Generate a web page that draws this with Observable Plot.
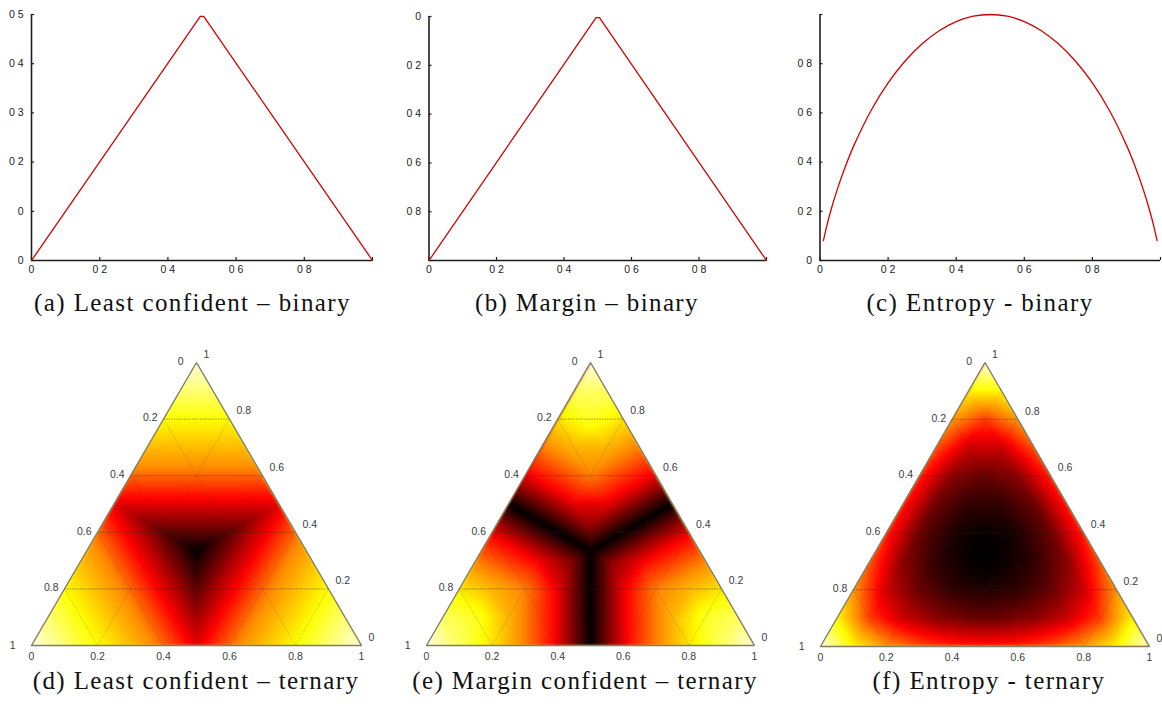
<!DOCTYPE html>
<html>
<head>
<meta charset="utf-8">
<script src="https://cdn.jsdelivr.net/npm/d3@7"></script>
<script src="https://cdn.jsdelivr.net/npm/@observablehq/plot@0.6"></script>
<style>
html, body { margin: 0; padding: 0; background: #fff; }
#root { position: relative; width: 1162px; height: 704px; overflow: hidden; background: #fff; }
#root > svg { position: absolute; }
</style>
</head>
<body>
<div id="root"></div>
<script>
// ---------------- data ----------------
// binary panels (x = probability of class 1)
const binaryTickValues = [0, 0.2, 0.4, 0.6, 0.8, 1];
const binaryTickLabels = ["0", "0 2", "0 4", "0 6", "0 8", ""];

const lcP = [0, 0.495, 0.505, 1];
const lcScore = [0, 0.496, 0.496, 0];
const lcYTicks = [0, 0.1, 0.2, 0.3, 0.4, 0.5];
const lcYLabels = ["0", "0", "0 2", "0 3", "0 4", "0 5"];

const marginP = [0, 0.495, 0.505, 1];
const marginScore = [1, 0.005, 0.005, 1];
const marginYTicks = [0, 0.2, 0.4, 0.6, 0.8, 1];
const marginYLabels = ["0", "0 2", "0 4", "0 6", "0 8", ""];

const entP = [0.01, 0.02, 0.03, 0.05, 0.075, 0.1, 0.15, 0.2, 0.25, 0.3, 0.35, 0.4, 0.45, 0.5,
              0.55, 0.6, 0.65, 0.7, 0.75, 0.8, 0.85, 0.9, 0.925, 0.95, 0.97, 0.98, 0.99];
const entScore = [0.081, 0.141, 0.194, 0.286, 0.384, 0.469, 0.610, 0.722, 0.811, 0.881, 0.934, 0.971, 0.993, 1,
                  0.993, 0.971, 0.934, 0.881, 0.811, 0.722, 0.610, 0.469, 0.384, 0.286, 0.194, 0.141, 0.081];
const entYTicks = [0, 0.2, 0.4, 0.6, 0.8, 1];
const entYLabels = ["0", "0 2", "0 4", "0 6", "0 8", ""];

// ternary panels: score for each class-probability composition (all permutations share the score)
const compositions = [
  [1, 0, 0], [0.9, 0.1, 0], [0.8, 0.2, 0], [0.8, 0.1, 0.1], [0.7, 0.3, 0], [0.7, 0.2, 0.1], [0.6, 0.4, 0],
  [0.6, 0.3, 0.1], [0.6, 0.2, 0.2], [0.5, 0.5, 0], [0.5, 0.4, 0.1], [0.5, 0.3, 0.2], [0.4, 0.4, 0.2], [0.4, 0.3, 0.3],
  [0.45, 0.45, 0.1], [0.375, 0.375, 0.25], [1 / 3, 1 / 3, 1 / 3]
];
const lcTernary      = [0, 0.1, 0.2, 0.2, 0.3, 0.3, 0.4, 0.4, 0.4, 0.5, 0.5, 0.5, 0.6, 0.6, 0.55, 0.625, 0.667];
const marginTernary  = [1, 0.8, 0.6, 0.7, 0.4, 0.5, 0.2, 0.3, 0.4, 0, 0.1, 0.2, 0, 0.1, 0, 0, 0];
const entropyTernary = [0, 0.469, 0.722, 0.922, 0.881, 1.157, 0.971, 1.296, 1.371, 1, 1.361, 1.485, 1.522, 1.571, 1.369, 1.561, 1.585];

const ternaryTicks = [0, 0.2, 0.4, 0.6, 0.8, 1];
const ternaryTickLabels = ["0", "0.2", "0.4", "0.6", "0.8", "1"];

const captions = ["(a) Least confident \u2013 binary", "(b) Margin \u2013 binary", "(c) Entropy - binary",
                  "(d) Least confident \u2013 ternary", "(e) Margin confident \u2013 ternary", "(f) Entropy - ternary"];

// ---------------- styles / layout ----------------
const root = document.getElementById("root");
const AXIS = "#1e1e1e";
const RED = "#d20000";
const sans = "'Liberation Sans', Arial, Helvetica, sans-serif";
const hotColors = ["#ffffe4", "#ffff00", "#ff8c00", "#ff0000", "#000000"];

function place(svg, left, top) {
  svg.style.left = left + "px";
  svg.style.top = top + "px";
  root.appendChild(svg);
}

function binaryPlot({xs, ys, yDomain, yReverse, yTicks, yLabels, baseY, left, width, marginLeft, marginRight, marginTop, curve}) {
  const height = 285, marginBottom = 25;
  const frameW = width - marginLeft - marginRight;
  const frameH = height - marginTop - marginBottom;
  const pts = xs.map((x, i) => ({p: x, s: ys[i]}));
  const xMap = new Map(binaryTickValues.map((v, i) => [v, binaryTickLabels[i]]));
  const yMap = new Map(yTicks.map((v, i) => [v, yLabels[i]]));
  const svg = Plot.plot({
    width, height, marginLeft, marginRight, marginTop, marginBottom,
    style: {fontFamily: sans, fontSize: "10.5px", color: AXIS, background: "transparent"},
    x: {domain: [0, 1], label: null},
    y: {domain: yDomain, reverse: yReverse, label: null},
    marks: [
      Plot.axisX({ticks: binaryTickValues, tickFormat: d => xMap.get(d), tickSize: 0, tickPadding: 5, label: null, fontSize: 10.5, fill: "#222"}),
      Plot.axisY({ticks: yTicks, tickFormat: d => yMap.get(d), tickSize: 0, tickPadding: 8, label: null, fontSize: 10.5, fill: "#222"}),
      Plot.tickX(binaryTickValues, {x: d => d, insetTop: frameH - 3, stroke: AXIS, strokeWidth: 1.2}),
      Plot.tickY(yTicks, {y: d => d, insetRight: frameW - 3, stroke: AXIS, strokeWidth: 1.2}),
      Plot.ruleX([0], {stroke: AXIS, strokeWidth: 1.6}),
      Plot.ruleY([baseY], {stroke: AXIS, strokeWidth: 1.6}),
      Plot.line(pts, {x: "p", y: "s", stroke: RED, strokeWidth: 1.3, curve})
    ]
  });
  place(svg, left, 0);
}

binaryPlot({xs: lcP, ys: lcScore, yDomain: [0, 0.5], yReverse: false, yTicks: lcYTicks, yLabels: lcYLabels, baseY: 0,
  left: 0, width: 385, marginLeft: 31, marginRight: 13, marginTop: 14, curve: "linear"});
binaryPlot({xs: marginP, ys: marginScore, yDomain: [0, 1], yReverse: true, yTicks: marginYTicks, yLabels: marginYLabels, baseY: 1,
  left: 390, width: 385, marginLeft: 38.5, marginRight: 9, marginTop: 16, curve: "linear"});
binaryPlot({xs: entP, ys: entScore, yDomain: [0, 1], yReverse: false, yTicks: entYTicks, yLabels: entYLabels, baseY: 0,
  left: 775, width: 387, marginLeft: 44.5, marginRight: 2, marginTop: 14, curve: "catmull-rom"});

// ---------------- ternary panels ----------------
function samples(values) {
  const seen = new Set();
  const pts = [];
  compositions.forEach((c, i) => {
    const [a, b, e] = c;
    for (const [t, r] of [[a, b], [a, e], [b, a], [b, e], [e, a], [e, b]]) {
      const key = t.toFixed(4) + "," + r.toFixed(4);
      if (seen.has(key)) continue;
      seen.add(key);
      pts.push({x: r + t / 2, y: t, v: values[i]});
    }
  });
  return pts;
}

function ternaryPlot(values, colorDomain, colorRange, g) {
  const pad = 0.03, top = 335, height = 340;
  const sx = g.br - g.bl, sy = g.baseY - g.apexY;
  const marginLeft = g.bl - pad * sx - g.left;
  const marginRight = g.left + g.width - (g.br + pad * sx);
  const marginTop = g.apexY - pad * sy - top;
  const marginBottom = top + height - (g.baseY + pad * sy);

  // white masks outside the simplex
  const q = 0.2;
  const mask = [
    ...[[-q, -q], [0, -q], [0, 0], [0.5, 1], [0.53, 1 + q], [-q, 1 + q]].map(([x, y]) => ({x, y, g: "L"})),
    ...[[1 + q, -q], [1, -q], [1, 0], [0.5, 1], [0.47, 1 + q], [1 + q, 1 + q]].map(([x, y]) => ({x, y, g: "R"})),
    ...[[-q, -q], [1 + q, -q], [1 + q, 0], [-q, 0]].map(([x, y]) => ({x, y, g: "B"}))
  ];
  const outline = [{x: 0, y: 0}, {x: 1, y: 0}, {x: 0.5, y: 1}, {x: 0, y: 0}];
  const inner = ternaryTicks.filter(c => c > 0 && c < 1);
  const gridH = inner.map(c => ({x1: c / 2, y1: c, x2: 1 - c / 2, y2: c}));
  const gridS = [
    ...inner.map(c => ({x1: (1 - c) / 2, y1: 1 - c, x2: 1 - c, y2: 0})),
    ...inner.map(c => ({x1: c, y1: 0, x2: (1 + c) / 2, y2: 1 - c}))
  ];
  const ticks = ternaryTicks.map((v, i) => ({v, label: ternaryTickLabels[i]}));
  const leftInner = ticks.filter(d => d.v > 0 && d.v < 1);
  const txt = {fontSize: 10.5, fill: "#3c3c3c", fontFamily: sans};

  const svg = Plot.plot({
    width: g.width, height, marginLeft, marginRight, marginTop, marginBottom,
    style: {background: "transparent"},
    x: {domain: [-pad, 1 + pad], axis: null},
    y: {domain: [-pad, 1 + pad], axis: null},
    color: {type: "linear", domain: colorDomain, range: colorRange, clamp: true},
    marks: [
      Plot.raster(samples(values), {x: "x", y: "y", fill: "v", interpolate: "barycentric"}),
      Plot.line(mask, {x: "x", y: "y", z: "g", fill: "white", stroke: "none"}),
      Plot.link(gridH, {x1: "x1", y1: "y1", x2: "x2", y2: "y2", stroke: "#2a2a2a", strokeOpacity: 0.55, strokeWidth: 1, strokeDasharray: "1.3,1.3"}),
      Plot.link(gridS, {x1: "x1", y1: "y1", x2: "x2", y2: "y2", stroke: "#2a2a2a", strokeOpacity: 0.3, strokeWidth: 0.9, strokeDasharray: "1.3,1.3"}),
      Plot.line(outline, {x: "x", y: "y", stroke: "#7e7e68", strokeWidth: 1.4, strokeLinejoin: "miter"}),
      // left edge (component equal to 1 at bottom-left corner)
      Plot.text(leftInner, {x: d => (1 - d.v) / 2, y: d => 1 - d.v, text: "label", textAnchor: "end", dx: -6, dy: -1, ...txt}),
      Plot.text(ticks.filter(d => d.v === 0), {x: 0.5, y: 1, text: "label", textAnchor: "end", dx: -13, dy: -1, ...txt}),
      Plot.text(ticks.filter(d => d.v === 1), {x: 0, y: 0, text: "label", textAnchor: "end", dx: -16, dy: 0, ...txt}),
      // right edge (top component)
      Plot.text(ticks, {x: d => 1 - d.v / 2, y: d => d.v, text: "label", textAnchor: "start", dx: 7, dy: -8, ...txt}),
      // bottom edge
      Plot.text(ticks, {x: d => d.v, y: 0, text: "label", textAnchor: "middle", dy: 11, ...txt})
    ]
  });
  svg.querySelectorAll("image").forEach(im => { im.style.filter = "blur(1.8px)"; });
  place(svg, g.left, top);
}

ternaryPlot(lcTernary, [0, 0.2, 0.37, 0.48, 0.667], hotColors,
  {left: 0, width: 390, bl: 31, br: 361, baseY: 645, apexY: 362});
ternaryPlot(marginTernary, [0, 0.22, 0.42, 0.65, 1], hotColors.slice().reverse(),
  {left: 390, width: 390, bl: 426, br: 754, baseY: 645, apexY: 362});
ternaryPlot(entropyTernary, [0, 0.45, 0.75, 1.05, 1.585], hotColors,
  {left: 780, width: 382, bl: 820, br: 1149, baseY: 646, apexY: 362});

// ---------------- captions ----------------
const capX = [192.5, 587, 980, 196, 585, 989];
const capY = [311, 311, 311, 689, 689, 689];
const over = d3.create("svg").attr("width", 1162).attr("height", 704)
  .style("left", "0px").style("top", "0px").style("pointer-events", "none");
over.selectAll("text").data(captions).join("text")
  .attr("x", (d, i) => capX[i]).attr("y", (d, i) => capY[i])
  .attr("text-anchor", "middle")
  .style("font-family", "'Liberation Serif', 'Times New Roman', serif")
  .style("font-size", "25px").style("letter-spacing", "1.4px")
  .attr("fill", "#111")
  .text(d => d);
root.appendChild(over.node());
</script>
</body>
</html>
